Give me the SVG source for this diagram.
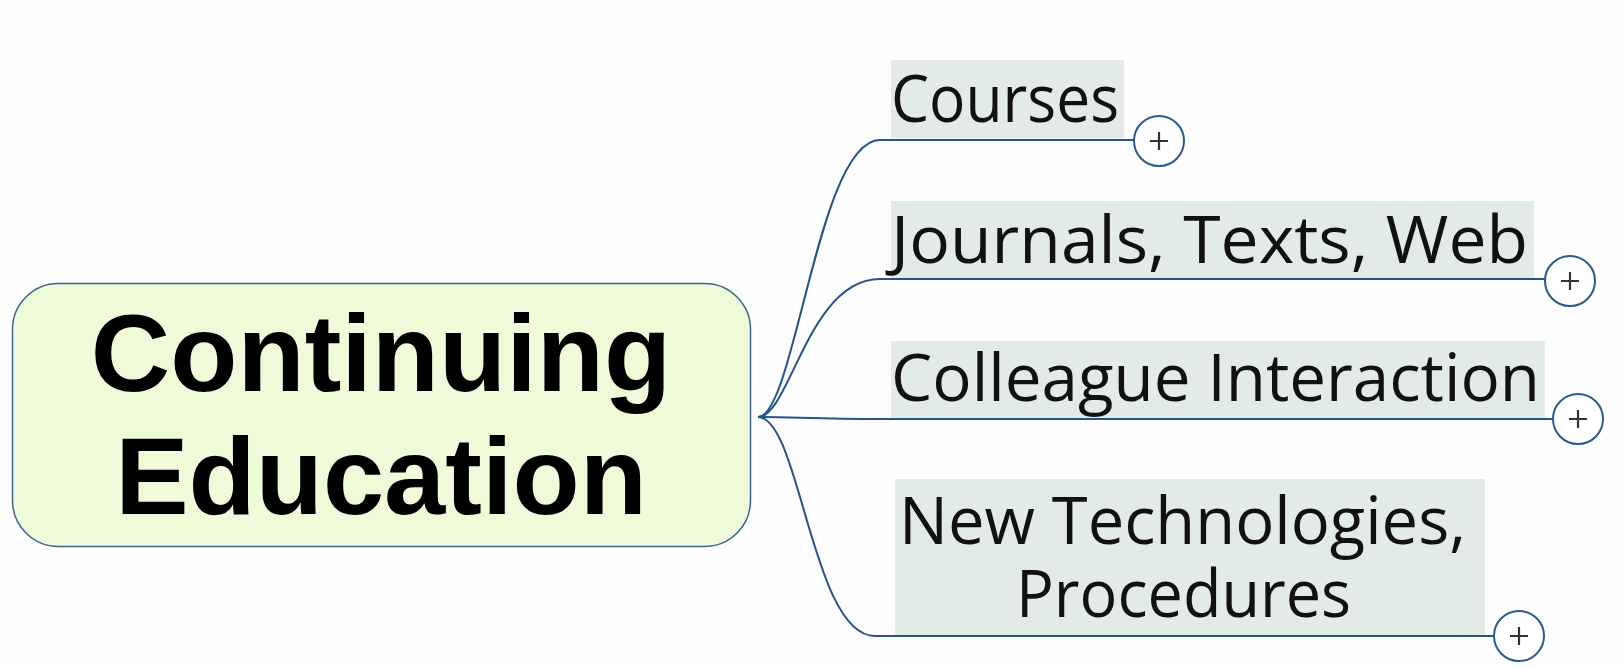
<svg xmlns="http://www.w3.org/2000/svg" width="1621" height="666" viewBox="0 0 1621 666">
<style>
.conn{fill:none;stroke:#24548a;stroke-width:2}
.lbl{font-family:"Open Sans","DejaVu Sans",sans-serif;font-size:65px;fill:#111}
.lblbg{fill:#e3ebe6}
.tog circle{fill:#fff;stroke:#2a5a8e;stroke-width:2}
.tog path{stroke:#333;stroke-width:2.2}
</style>
<rect width="1621" height="666" fill="#fdfdfd"/>
<g id="connectors">
<path class="conn" d="M758,417 C795,417 818,140 880,140 L1134,140"/>
<path class="conn" d="M758,417 C790,417 808,279 880,279 L1545,279"/>
<path class="conn" d="M758,417 C790,417 820,419 880,419 L1553,419"/>
<path class="conn" d="M758,417 C800,417 812,636 875,636 L1494,636"/>
</g>
<g id="center">
<rect x="12.5" y="283.5" width="738" height="263" rx="46" fill="#effbd8" stroke="#3a6590" stroke-width="1.5"/>
<text x="381" y="391" text-anchor="middle" font-family="'Liberation Sans',Arial,sans-serif" font-weight="bold" font-size="110" fill="#000">Continuing</text>
<text x="381" y="514" text-anchor="middle" font-family="'Liberation Sans',Arial,sans-serif" font-weight="bold" font-size="110" fill="#000">Education</text>
</g>
<g id="courses">
<rect class="lblbg" x="891" y="60" width="233" height="78"/>
<text class="lbl" x="891" y="122" textLength="228" lengthAdjust="spacingAndGlyphs">Courses</text>
<g class="tog"><circle cx="1159" cy="141" r="25"/><path d="M1150,141 H1168 M1159,132 V150"/></g>
</g>
<g id="journals">
<rect class="lblbg" x="891" y="201" width="643" height="77"/>
<text class="lbl" x="891" y="263" textLength="637" lengthAdjust="spacingAndGlyphs">Journals, Texts, Web</text>
<g class="tog"><circle cx="1570" cy="281" r="25"/><path d="M1561,281 H1579 M1570,272 V290"/></g>
</g>
<g id="colleague">
<rect class="lblbg" x="891" y="341" width="654" height="77"/>
<text class="lbl" x="891" y="401" textLength="649" lengthAdjust="spacingAndGlyphs">Colleague Interaction</text>
<g class="tog"><circle cx="1578" cy="419" r="25"/><path d="M1569,419 H1587 M1578,410 V428"/></g>
</g>
<g id="newtech">
<rect class="lblbg" x="895" y="479" width="590" height="156"/>
<text class="lbl"><tspan x="899" y="544" textLength="567" lengthAdjust="spacingAndGlyphs">New Technologies,</tspan><tspan x="1016" y="617" textLength="335" lengthAdjust="spacingAndGlyphs">Procedures</tspan></text>
<g class="tog"><circle cx="1519" cy="636" r="25"/><path d="M1510,636 H1528 M1519,627 V645"/></g>
</g>
</svg>
